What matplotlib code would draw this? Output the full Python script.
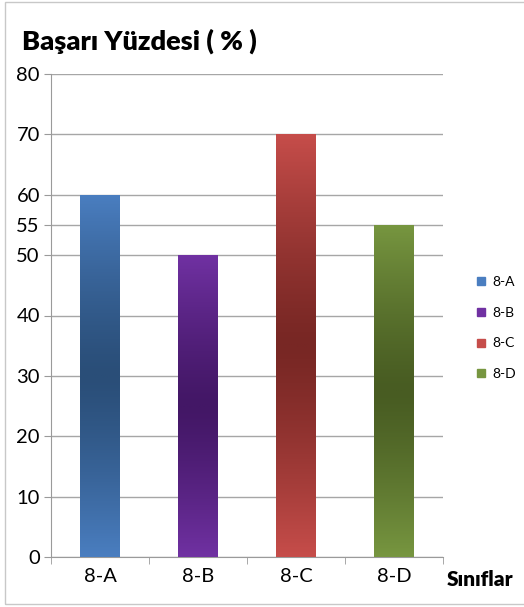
import matplotlib
matplotlib.use("Agg")
import matplotlib.pyplot as plt
import numpy as np
from matplotlib.colors import LinearSegmentedColormap
from matplotlib.lines import Line2D
from matplotlib.patches import Rectangle

plt.rcParams["font.family"] = ["Lato", "DejaVu Sans"]

classes = ["8-A", "8-B", "8-C", "8-D"]
success = [60, 50, 70, 55]
yticks = [0, 10, 20, 30, 40, 50, 55, 60, 70, 80]
# (edge colour, centre colour) per bar
edge_cols = ["#4a7ec0", "#7031a2", "#c64d4a", "#779640"]
mid_cols = ["#2a4e78", "#431766", "#782724", "#485c22"]

W, H = 524, 607
fig = plt.figure(figsize=(W / 100, H / 100), dpi=100)
ax = fig.add_axes([51 / W, 1 - 557 / H, (443 - 51) / W, (557 - 74) / H])

x = np.arange(len(classes))
bars = ax.bar(x, success, width=0.4, color="none", edgecolor="none", zorder=3)
grad = np.abs(np.linspace(-1, 1, 256))[:, None] ** 1.3
for b, ec, mc in zip(bars, edge_cols, mid_cols):
    cmap = LinearSegmentedColormap.from_list("g", [mc, ec])
    x0, w, h = b.get_x(), b.get_width(), b.get_height()
    im = ax.imshow(grad, cmap=cmap, extent=[x0, x0 + w, 0, h],
                   aspect="auto", origin="lower", zorder=3, vmin=0, vmax=1)
    im.set_clip_path(b)

ax.set_xlim(-0.5, len(classes) - 0.5)
ax.set_ylim(0, 80)
ax.set_yticks(yticks)
ax.set_xticks(x)
ax.set_xticklabels(classes)
ax.set_xticks(np.arange(-0.5, len(classes)), minor=True)
ax.tick_params(axis="x", which="major", length=0, labelsize=14.5, pad=8)
ax.tick_params(axis="x", which="minor", length=5, color="#9a9a9a", direction="out")
ax.tick_params(axis="y", length=5, color="#9a9a9a", direction="out", labelsize=14.5, pad=3)
ax.grid(axis="y", color="#a6a6a6", linewidth=1.0, zorder=0)
ax.set_axisbelow(True)
for s in ["top", "right"]:
    ax.spines[s].set_visible(False)
for s in ["left", "bottom"]:
    ax.spines[s].set_color("#9a9a9a")

handles = [Line2D([], [], marker="s", linestyle="none", markersize=6,
                  markerfacecolor=c, markeredgecolor=c) for c in edge_cols]
fig.legend(handles, classes, loc="center left", bbox_to_anchor=(463 / W, 1 - 328 / H),
           frameon=False, fontsize=10, labelspacing=1.35, handlelength=0.8,
           handletextpad=0.4)

fig.text(22 / W, 1 - 50 / H, "Başarı Yüzdesi ( % )", fontsize=19.5,
         fontweight="heavy", va="baseline", ha="left")
fig.text(447 / W, 1 - 579 / H, "Sınıflar", fontsize=15, fontweight="heavy",
         va="center", ha="left")

fig.add_artist(Rectangle((5 / W, 3 / H), 1.2, 1 - 4.5 / H, transform=fig.transFigure,
                         fill=False, edgecolor="#c8c8c8", linewidth=1.0))

fig.savefig("out.png", dpi=100)
